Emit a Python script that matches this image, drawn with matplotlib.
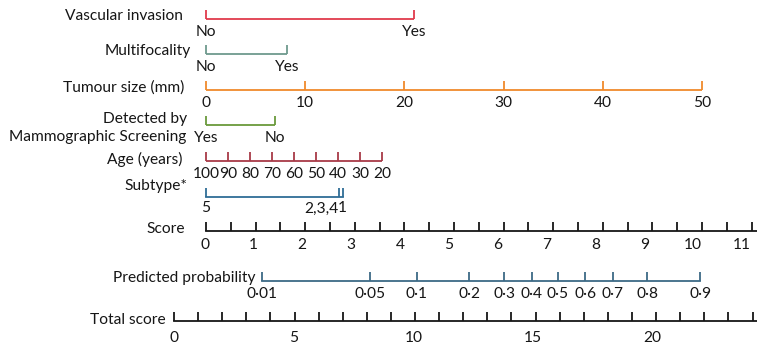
import numpy as np
import matplotlib
matplotlib.use('Agg')
import matplotlib.pyplot as plt

plt.rcParams['font.family'] = ['Lato', 'DejaVu Sans']

# Pontos (escala "Score") de cada categoria
vasc_labels = ['No', 'Yes']
vasc_points = [0, 4.2]

multi_labels = ['No', 'Yes']
multi_points = [0, 1.64]

tumour_labels = ['0', '10', '20', '30', '40', '50']
tumour_points = [0, 2, 4, 6, 8, 10]

screen_labels = ['Yes', 'No']
screen_points = [0, 1.385]

age_labels = ['100', '90', '80', '70', '60', '50', '40', '30', '20']
age_points = [0, 0.444, 0.889, 1.333, 1.778, 2.222, 2.667, 3.111, 3.555]

subtype_labels = ['5', '2,3,4', '1']
subtype_points = [0, 2.68, 2.77]

score_ticks = np.arange(0, 11.5, 0.5)
score_labels = [str(i) for i in range(0, 12)]

total_ticks = np.arange(0, 25, 1)
total_labels = ['0', '5', '10', '15', '20']

prob_labels = ['0·01', '0·05', '0·1', '0·2', '0·3', '0·4', '0·5', '0·6', '0·7', '0·8', '0·9']
prob_total = [3.66, 8.13, 10.08, 12.24, 13.69, 14.85, 15.93, 17.05, 18.2, 19.64, 21.83]

# eixo "Total score" posicionado na escala de pontos
tot_off = -0.645
tot_scale = 0.486


def tot2x(t):
    return tot_off + np.asarray(t, dtype=float) * tot_scale


fig = plt.figure(figsize=(7.57, 3.46), dpi=100)
ax = fig.add_axes([0, 0, 1, 1])
ax.set_xlim(-206 / 49.6, (757 - 206) / 49.6)
ax.set_ylim(346, 0)
ax.axis('off')

FS = 11.2
TL = 9  # comprimento do tick (px)
COR_TXT = '#161616'


def escala(xs, y, labels, color, lw=1.3):
    xs = np.asarray(xs, dtype=float)
    ax.plot([xs.min(), xs.max()], [y, y], color=color, lw=lw, solid_capstyle='butt')
    ax.vlines(xs, y - TL, y, color=color, lw=lw)
    for xx, lb in zip(xs, labels):
        ax.text(xx, y + 13.5, lb, ha='center', va='center', fontsize=FS, color=COR_TXT)


def rotulo(txt, y, x_px):
    ax.text((x_px - 206) / 49.6, y, txt, ha='right', va='center', fontsize=FS, color=COR_TXT)


# Variáveis
escala(vasc_points, 18.5, vasc_labels, '#e03a4c')
rotulo('Vascular invasion', 15.5, 183)

escala(multi_points, 53.5, multi_labels, '#6e9a8e')
rotulo('Multifocality', 51.5, 191)

escala(tumour_points, 89.5, tumour_labels, '#f08a2c')
rotulo('Tumour size (mm)', 88, 184)

escala(screen_points, 124.5, screen_labels, '#6a9a3c')
rotulo('Detected by', 118.5, 187)
rotulo('Mammographic Screening', 136.5, 186)

escala(age_points, 160.5, age_labels, '#a83a48')
rotulo('Age (years)', 159, 182)

# Subtype: rótulos sobrepostos
y_sub = 196.5
xs = np.asarray(subtype_points)
ax.plot([xs.min(), xs.max()], [y_sub, y_sub], color='#2f6d96', lw=1.3)
ax.vlines(xs, y_sub - TL, y_sub, color='#2f6d96', lw=1.3)
ax.text(xs[0], y_sub + 12, subtype_labels[0], ha='center', va='center', fontsize=FS, color=COR_TXT)
ax.text(xs[1] - 0.01, y_sub + 12, subtype_labels[1], ha='right', va='center', fontsize=FS, color=COR_TXT)
ax.text(xs[2] - 0.02, y_sub + 12, subtype_labels[2], ha='center', va='center', fontsize=FS, color=COR_TXT)
rotulo('Subtype*', 186, 187)

# Score
y_sc = 231
ax.plot([0, 12], [y_sc, y_sc], color=COR_TXT, lw=1.3)
ax.vlines(score_ticks, y_sc - TL, y_sc, color=COR_TXT, lw=1.3)
for i, lb in enumerate(score_labels):
    ax.text(i * 0.985 - 0.03, y_sc + 14, lb, ha='center', va='center', fontsize=FS, color=COR_TXT)
rotulo('Score', 229, 185)

# Predicted probability
y_pr = 280.5
px = tot2x(prob_total)
ax.plot([px.min(), px.max()], [y_pr, y_pr], color='#3d6a86', lw=1.3)
ax.vlines(px, y_pr - TL, y_pr, color='#3d6a86', lw=1.3)
for xx, lb in zip(px, prob_labels):
    ax.text(xx, y_pr + 13, lb, ha='center', va='center', fontsize=FS, color=COR_TXT)
rotulo('Predicted probability', 278, 255)

# Total score
y_t = 321
ax.plot([tot2x(0), tot2x(26)], [y_t, y_t], color=COR_TXT, lw=1.3)
ax.vlines(tot2x(total_ticks), y_t - TL, y_t, color=COR_TXT, lw=1.3)
for lb in total_labels:
    ax.text(tot2x(float(lb) * 0.993), y_t + 17, lb, ha='center', va='center', fontsize=FS, color=COR_TXT)
rotulo('Total score', 320, 166)

fig.savefig('out.png', dpi=100, facecolor='white')
